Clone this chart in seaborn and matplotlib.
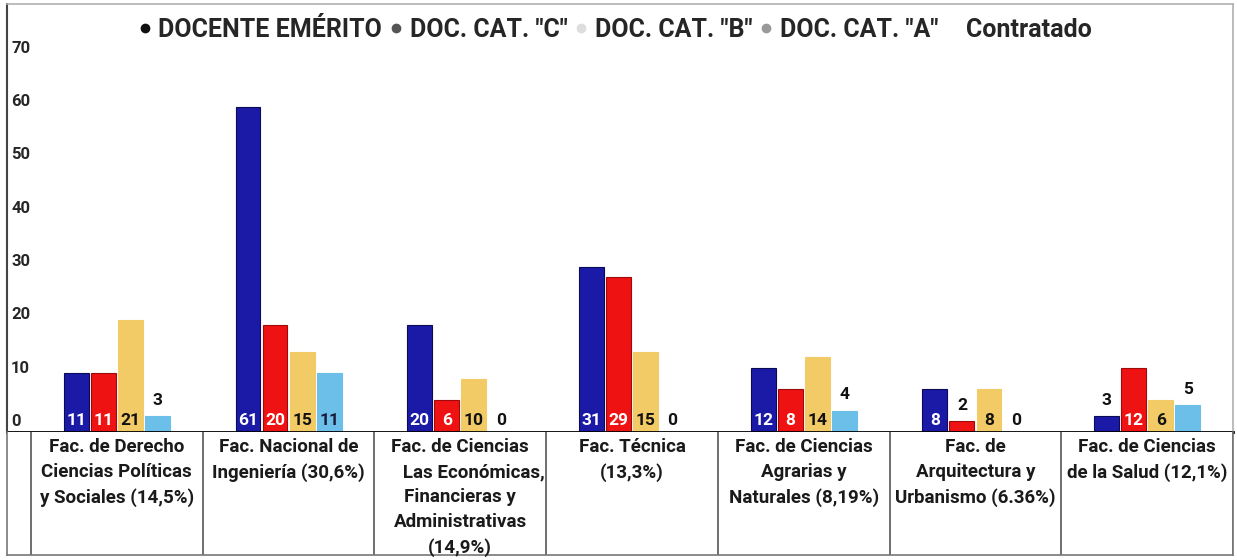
import matplotlib.pyplot as plt
import matplotlib.transforms as mtransforms
from matplotlib.lines import Line2D
import seaborn as sns
import pandas as pd

sns.set_style("white")
plt.rcParams["font.family"] = ["Roboto", "DejaVu Sans"]

facultades = [
    "Fac. de Derecho\nCiencias Políticas\ny Sociales (14,5%)",
    "Fac. Nacional de\nIngeniería (30,6%)",
    "Fac. de Ciencias\n      Las Económicas,\nFinancieras y\nAdministrativas\n(14,9%)",
    "Fac. Técnica\n(13,3%)",
    "Fac. de Ciencias\nAgrarias y\nNaturales (8,19%)",
    "Fac. de\nArquitectura y\nUrbanismo (6.36%)",
    "Fac. de Ciencias\nde la Salud (12,1%)",
]
series = ["DOC. CAT. \"C\"", "DOC. CAT. \"B\"", "DOC. CAT. \"A\"", "Contratado"]
cat_c = [11, 61, 20, 31, 12, 8, 3]
cat_b = [11, 20, 6, 29, 8, 2, 12]
cat_a = [21, 15, 10, 15, 14, 8, 6]
contratado = [3, 11, 0, 0, 4, 0, 5]

legend_labels = ["DOCENTE EMÉRITO", "DOC. CAT. \"C\"", "DOC. CAT. \"B\"",
                 "DOC. CAT. \"A\"", "Contratado"]
legend_dots = ["#111111", "#555555", "#dddddd", "#999999", "none"]

colors = ["#1a1aa6", "#ee1212", "#f2ca66", "#6cbfe9"]
edges = ["#0a0a55", "#a00a0a", "#f2ca66", "#6cbfe9"]
text_colors = ["white", "white", "#111111", "#1a1a3a"]
yticks = [0, 10, 20, 30, 40, 50, 60, 70]

rows = []
for s, vals in zip(series, [cat_c, cat_b, cat_a, contratado]):
    for f, v in zip(facultades, vals):
        rows.append({"facultad": f, "serie": s, "valor": v})
df = pd.DataFrame(rows)

W, H = 1237, 560
fig = plt.figure(figsize=(W / 100, H / 100), dpi=100)
ax = fig.add_axes([7 / W, (H - 432) / H, 1226 / W, 428 / H])
ax_t = fig.add_axes([7 / W, (H - 555) / H, 1226 / W, 123 / H])

sns.barplot(data=df, x="facultad", y="valor", hue="serie", palette=colors,
            saturation=1, width=0.63, gap=0.08, ax=ax, legend=False)

for k, cont in enumerate(ax.containers):
    for bar in cont:
        bar.set_edgecolor(edges[k])
        bar.set_linewidth(0.8)
        v = bar.get_height()
        cx = bar.get_x() + bar.get_width() / 2
        if v >= 6:
            ax.text(cx, 2.2, f"{v:.0f}", ha="center", va="center",
                    color=text_colors[k], fontsize=12.5, fontweight="bold")
        elif v > 0:
            ax.text(cx, v + 3.0, f"{v:.0f}", ha="center", va="center",
                    color="#111111", fontsize=12.5, fontweight="bold")
        else:
            ax.text(cx, 2.2, "0", ha="center", va="center",
                    color="#111111", fontsize=12.5, fontweight="bold")

left_cell = 24 / (1202 / 7)
xlim = (-0.5 - left_cell, 6.5)
ax.set_xlim(xlim)
ax.set_ylim(0, 80.3)
ax.set_xlabel("")
ax.set_ylabel("")
ax.set_xticks([])
ax.set_yticks(yticks)
ax.set_yticklabels([str(t) for t in yticks], fontsize=12, fontweight="bold",
                   ha="left")
ax.tick_params(axis="y", length=0, pad=-3)
shift = mtransforms.ScaledTranslation(0, 12 / 100, fig.dpi_scale_trans)
for lab in ax.get_yticklabels():
    lab.set_transform(lab.get_transform() + shift)

for side in ["top", "right"]:
    ax.spines[side].set_visible(True)
    ax.spines[side].set_color("#b0b0b0")
    ax.spines[side].set_linewidth(1.2)
ax.spines["left"].set_color("#444444")
ax.spines["left"].set_linewidth(1.5)
ax.spines["bottom"].set_color("black")
ax.spines["bottom"].set_linewidth(2)

handles = [Line2D([], [], marker="o", linestyle="none", markersize=6,
                  markerfacecolor=c, markeredgecolor=c) for c in legend_dots]
ax.legend(handles, legend_labels, loc="upper center", bbox_to_anchor=(0.496, 1.02),
          ncol=5, frameon=False, handlelength=0.5, handletextpad=0.3,
          columnspacing=0.3, prop={"weight": "bold", "size": 18})

# table of category names under the bars
ax_t.set_xlim(xlim)
ax_t.set_ylim(0, 1)
ax_t.set_xticks([])
ax_t.set_yticks([])
ax_t.vlines([i - 0.5 for i in range(len(facultades) + 1)], 0, 1,
            color="#555555", linewidth=1.2)
for side in ["left", "right", "bottom"]:
    ax_t.spines[side].set_color("#777777")
    ax_t.spines[side].set_linewidth(1.2)
ax_t.spines["top"].set_visible(False)
for i, f in enumerate(facultades):
    ax_t.text(i, 0.95, f, ha="center", va="top", fontsize=13.5,
              fontweight="bold", linespacing=1.5, color="#1a1a1a")

fig.savefig("out.png", dpi=100, facecolor="white")
